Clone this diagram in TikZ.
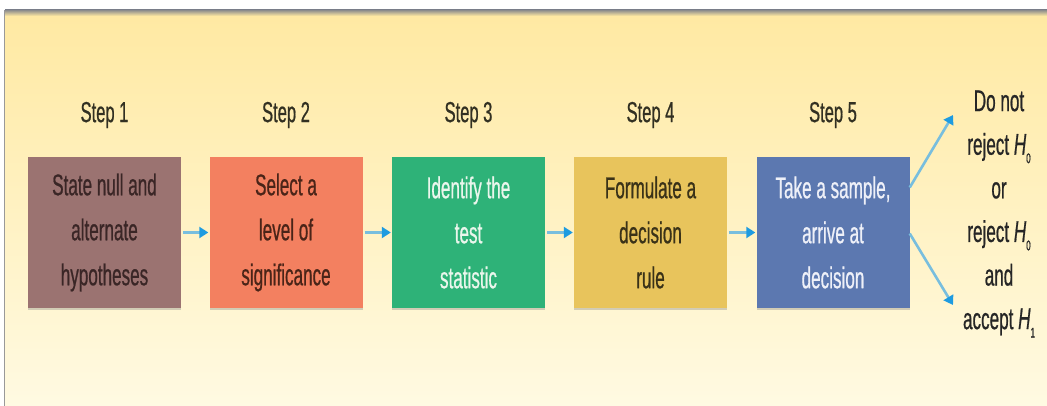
\documentclass[tikz,border=0pt]{standalone}
\usepackage{fontspec}
\newfontfamily\cond{Liberation Sans}[FakeStretch=0.57,FakeBold=0.6]
\usetikzlibrary{arrows.meta,shadows}
\definecolor{panTop}{RGB}{255,233,162}
\definecolor{panBot}{RGB}{255,250,226}
\definecolor{cA}{RGB}{155,115,113}
\definecolor{cB}{RGB}{243,128,96}
\definecolor{cC}{RGB}{46,178,120}
\definecolor{cD}{RGB}{232,196,92}
\definecolor{cE}{RGB}{92,120,176}
\definecolor{tA}{RGB}{58,38,38}
\definecolor{tB}{RGB}{74,36,24}
\definecolor{tC}{RGB}{234,246,236}
\definecolor{tD}{RGB}{58,50,24}
\definecolor{tE}{RGB}{238,240,248}
\definecolor{stepcol}{RGB}{50,48,34}
\definecolor{arrline}{RGB}{120,190,222}
\definecolor{arrtip}{RGB}{30,155,224}
\newcommand{\Hsub}[1]{{\itshape H}\raisebox{-0.28em}{\fontsize{14}{14}\selectfont #1}}
\begin{document}
\begin{tikzpicture}[x=1pt,y=-1pt,
  stepbox/.style={rectangle, minimum width=153pt, minimum height=151pt, inner sep=0pt,
    align=center, font=\cond\fontsize{30}{45}\selectfont,
    drop shadow={shadow xshift=0pt, shadow yshift=-2pt, opacity=0.35}},
  steplabel/.style={font=\cond\fontsize{29}{30}\selectfont, text=stepcol, inner sep=0pt},
  rtext/.style={font=\cond\fontsize{30}{43.6}\selectfont, text=black!85, align=center, inner sep=0pt},
  flow/.style={draw=arrline, line width=2.6pt, -{Triangle[length=9pt,width=11pt,color=arrtip,fill=arrtip]}}
]
\useasboundingbox (0,0) rectangle (1047,406);
\fill[white] (0,0) rectangle (1047,406);
% panel
\shade[top color=panTop, bottom color=panBot] (5,12) rectangle (1047,406);
\shade[top color=black!45, bottom color=panTop] (5,10) rectangle (1047,16);
\draw[black!40, line width=1.5pt] (4.5,10) -- (4.5,406);

% step labels
\node[steplabel] (s1) at (104.5,115) {Step 1};
\node[steplabel] (s2) at (286,115) {Step 2};
\node[steplabel] (s3) at (468.5,115) {Step 3};
\node[steplabel] (s4) at (650.5,115) {Step 4};
\node[steplabel] (s5) at (833,115) {Step 5};

% boxes
\node[stepbox, fill=cA, text=tA] (b1) at (104.5,232.5) {State null and\\alternate\\hypotheses};
\node[stepbox, fill=cB, text=tB] (b2) at (286,232.5) {Select a\\level of\\significance};
\node[stepbox, fill=cC, text=tC] (b3) at (468.5,232.5) {Identify the\\test\\statistic};
\node[stepbox, fill=cD, text=tD] (b4) at (650.5,232.5) {Formulate a\\decision\\rule};
\node[stepbox, fill=cE, text=tE] (b5) at (833,232.5) {Take a sample,\\arrive at\\decision};

% arrows
\draw[flow, shorten <=2pt, shorten >=1pt] (b1.east) -- (b2.west);
\draw[flow, shorten <=2pt, shorten >=1pt] (b2.east) -- (b3.west);
\draw[flow, shorten <=2pt, shorten >=1pt] (b3.east) -- (b4.west);
\draw[flow, shorten <=2pt, shorten >=1pt] (b4.east) -- (b5.west);

\coordinate (up) at (953,115);
\coordinate (dn) at (953,305);
\draw[flow] ([yshift=45pt]b5.east) -- (up);
\draw[flow] ([yshift=-1pt]b5.east) -- (dn);

% decision text
\node[rtext] (dec) at (999,214) {Do not\\reject \Hsub{0}\\or\\reject \Hsub{0}\\and\\accept \Hsub{1}};
\end{tikzpicture}
\end{document}
